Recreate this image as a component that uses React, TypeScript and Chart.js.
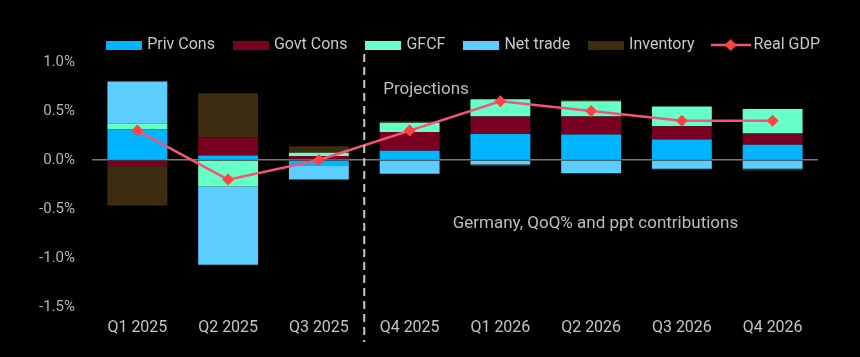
import React, { useEffect, useRef } from "react";
import { Chart, registerables } from "chart.js";

Chart.register(...registerables);

const categories = ["Q1 2025", "Q2 2025", "Q3 2025", "Q4 2025", "Q1 2026", "Q2 2026", "Q3 2026", "Q4 2026"];
const privCons = [0.31, 0.045, -0.06, 0.095, 0.265, 0.26, 0.21, 0.155];
const govtCons = [-0.065, 0.185, 0.04, 0.19, 0.18, 0.185, 0.135, 0.115];
const gfcf = [0.06, -0.27, 0.035, 0.095, 0.175, 0.155, 0.2, 0.25];
const netTrade = [0.43, -0.8, -0.14, -0.14, -0.045, -0.135, -0.09, -0.09];
const inventory = [-0.4, 0.45, 0.065, 0.015, -0.015, 0.015, -0.01, -0.02];
const realGdp = [0.3, -0.2, 0.0, 0.3, 0.6, 0.5, 0.4, 0.4];
const yTicks = [-1.5, -1.0, -0.5, 0.0, 0.5, 1.0];

const COLORS = {
  priv: "#00b4ff",
  govt: "#780020",
  gfcf: "#66ffc6",
  net: "#5ccdff",
  inv: "#3d2c10",
  gdpLine: "#f4547a",
  gdpPoint: "#ff4242",
};

const FONT = "Roboto";

function rectImage(color: string) {
  const c = document.createElement("canvas");
  c.width = 36;
  c.height = 9;
  const ctx = c.getContext("2d")!;
  ctx.fillStyle = color;
  ctx.fillRect(0, 0, 36, 9);
  return c;
}

function lineImage() {
  const c = document.createElement("canvas");
  c.width = 40;
  c.height = 14;
  const ctx = c.getContext("2d")!;
  ctx.strokeStyle = COLORS.gdpLine;
  ctx.lineWidth = 2.5;
  ctx.beginPath();
  ctx.moveTo(0, 7);
  ctx.lineTo(40, 7);
  ctx.stroke();
  ctx.fillStyle = COLORS.gdpPoint;
  ctx.beginPath();
  ctx.moveTo(20, 1);
  ctx.lineTo(26, 7);
  ctx.lineTo(20, 13);
  ctx.lineTo(14, 7);
  ctx.closePath();
  ctx.fill();
  return c;
}

export default function App() {
  const ref = useRef<HTMLCanvasElement | null>(null);

  useEffect(() => {
    document.body.style.margin = "0";
    document.body.style.background = "#000";
    const canvas = ref.current!;
    const images = [
      rectImage(COLORS.priv),
      rectImage(COLORS.govt),
      rectImage(COLORS.gfcf),
      rectImage(COLORS.net),
      rectImage(COLORS.inv),
      lineImage(),
    ];

    const bgPlugin = {
      id: "bg",
      beforeDraw(chart: any) {
        const { ctx, width, height } = chart;
        ctx.save();
        ctx.fillStyle = "#000";
        ctx.fillRect(0, 0, width, height);
        ctx.restore();
      },
    };

    const legendFix = {
      id: "legendFix",
      beforeInit(chart: any) {
        const orig = chart.legend.fit;
        chart.legend.fit = function () {
          orig.call(this);
          this.height = 46;
        };
      },
      beforeDraw(chart: any) {
        const lg = chart.legend;
        if (!lg._shifted) {
          lg.left += 23;
          lg.right += 23;
          lg._shifted = true;
        }
      },
    };

    const annot = {
      id: "annot",
      afterDatasetsDraw(chart: any) {
        const { ctx, scales } = chart;
        const xs = scales.x;
        const ys = scales.y;
        const xd = (xs.getPixelForValue(2) + xs.getPixelForValue(3)) / 2;
        ctx.save();
        ctx.strokeStyle = "#c8c8c8";
        ctx.lineWidth = 2;
        ctx.setLineDash([8, 5]);
        ctx.beginPath();
        ctx.moveTo(xd, 54);
        ctx.lineTo(xd, 342);
        ctx.stroke();
        ctx.setLineDash([]);
        ctx.fillStyle = "#bdbdbd";
        ctx.font = `17px ${FONT}`;
        ctx.textBaseline = "middle";
        ctx.textAlign = "left";
        ctx.fillText("Projections", xd + 19, ys.getPixelForValue(0.72));
        ctx.fillText(
          "Germany, QoQ% and ppt contributions",
          xs.getPixelForValue(3) + 43,
          ys.getPixelForValue(-0.655)
        );
        ctx.restore();
      },
    };

    const barCommon = {
      type: "bar" as const,
      categoryPercentage: 0.66,
      barPercentage: 1,
      borderWidth: 0,
      order: 1,
    };

    const chart = new Chart(canvas, {
      type: "bar",
      data: {
        labels: categories,
        datasets: [
          { ...barCommon, label: "Priv Cons", data: privCons, backgroundColor: COLORS.priv },
          { ...barCommon, label: "Govt Cons", data: govtCons, backgroundColor: COLORS.govt },
          { ...barCommon, label: "GFCF", data: gfcf, backgroundColor: COLORS.gfcf },
          { ...barCommon, label: "Net trade", data: netTrade, backgroundColor: COLORS.net },
          { ...barCommon, label: "Inventory", data: inventory, backgroundColor: COLORS.inv },
          {
            type: "line" as const,
            label: "Real GDP",
            data: realGdp,
            borderColor: COLORS.gdpLine,
            borderWidth: 2.5,
            pointStyle: "rectRot",
            pointRadius: 6,
            pointBackgroundColor: COLORS.gdpPoint,
            pointBorderColor: COLORS.gdpPoint,
            pointBorderWidth: 0,
            tension: 0,
            order: 0,
          } as any,
        ],
      },
      options: {
        responsive: false,
        animation: false,
        devicePixelRatio: 1,
        layout: { padding: { top: 16, right: 42, left: 0, bottom: 0 } },
        plugins: {
          tooltip: { enabled: false },
          legend: {
            position: "top",
            align: "end",
            labels: {
              usePointStyle: true,
              pointStyleWidth: 30,
              boxHeight: 9,
              padding: 21,
              color: "#c8c8c8",
              font: { family: FONT, size: 16 },
              sort: (a: any, b: any) => a.datasetIndex - b.datasetIndex,
              generateLabels: (ch: any) => {
                const items = (Chart.defaults.plugins.legend.labels as any).generateLabels(ch);
                return items.map((it: any) => ({ ...it, pointStyle: images[it.datasetIndex], lineWidth: 0 }));
              },
            },
          },
        },
        scales: {
          x: {
            stacked: true,
            grid: { display: false, drawTicks: false },
            border: { display: false },
            ticks: {
              color: "#c4c4c4",
              font: { family: FONT, size: 16 },
              padding: 11,
              maxRotation: 0,
            },
            afterFit(scale: any) {
              scale.height = 50;
            },
          },
          y: {
            stacked: true,
            min: -1.5,
            max: 1.0,
            afterBuildTicks(scale: any) {
              scale.ticks = yTicks.map((v) => ({ value: v }));
            },
            grid: {
              drawTicks: false,
              color: (c: any) => (c.tick && c.tick.value === 0 ? "#7a7a7a" : "rgba(0,0,0,0)"),
              lineWidth: 1.5,
            },
            border: { display: false },
            ticks: {
              color: "#b4b4b4",
              font: { family: FONT, size: 15 },
              padding: 17,
              callback: (v: any) => Number(v).toFixed(1) + "%",
            },
            afterFit(scale: any) {
              scale.width = 92;
            },
          },
        },
      },
      plugins: [bgPlugin, legendFix, annot],
    });

    return () => chart.destroy();
  }, []);

  return (
    <div style={{ width: 860, height: 357, background: "#000" }}>
      <canvas ref={ref} width={860} height={357} />
    </div>
  );
}
